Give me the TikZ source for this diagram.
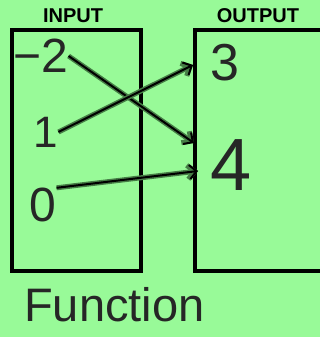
\documentclass[tikz,border=0pt]{standalone}
\usepackage{fontspec}
\setsansfont{Liberation Sans}
\usetikzlibrary{arrows.meta}
\definecolor{paper}{RGB}{152,250,152}
\definecolor{glow}{RGB}{70,125,70}
\tikzset{
  box/.style={draw, line width=3.5pt, inner sep=0pt},
  head/.style={font=\sffamily\bfseries\fontsize{20}{20}\selectfont},
  hand/.style={inner sep=0pt, text=black!85, font=\sffamily\fontsize{#1}{#1}\selectfont},
  link/.style={line width=2pt, -{Straight Barb[length=7pt,width=14pt,line width=2pt]},
    preaction={draw=glow, line width=5pt, -{Straight Barb[length=7pt,width=14pt,line width=5pt]}}}
}
\begin{document}
\begin{tikzpicture}[x=1pt,y=-1pt]
  \useasboundingbox (0,0) rectangle (320,337);
  \fill[paper] (0,0) rectangle (320,337);
  \clip (0,0) rectangle (320,337);
  % the two sets
  \node[box, minimum width=129pt, minimum height=241pt] (inbox) at (76.5,150.5) {};
  \node[box, minimum width=140pt, minimum height=241pt] (outbox) at (265,150.5) {};
  \node[head] (intitle) at (73,16) {INPUT};
  \node[head] (outtitle) at (258,16) {OUTPUT};
  % values
  \node[hand=48] (in1) at (41,56) {−2};
  \node[hand=44] (in2) at (46,132) {1};
  \node[hand=48] (in3) at (43,205) {0};
  \node[hand=52] (out1) at (225,63) {3};
  \node[hand=74] (out2) at (231,165) {4};
  \node[hand=47, anchor=west] (fname) at (24,305) {Function};
  % arrow ends
  \coordinate (t1) at (194,143);
  \coordinate (t2) at (193,65);
  \coordinate (t3) at (198,171);
  \draw[link] (in1.east) -- (t1);
  \draw[link] (in2.east) -- (t2);
  \draw[link] (in3.north east) -- (t3);
\end{tikzpicture}
\end{document}
